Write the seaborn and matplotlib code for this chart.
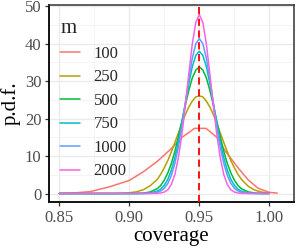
import matplotlib
matplotlib.use("Agg")
import matplotlib.pyplot as plt
from matplotlib.ticker import MultipleLocator
import seaborn as sns
import pandas as pd

# ---- data ----
m_levels = ["100", "250", "500", "750", "1000", "2000"]
colors = ["#F8766D", "#B79F00", "#00BA38", "#00BFC4", "#619CFF", "#F564E3"]

x_grid = [0.85, 0.86, 0.87, 0.88, 0.89, 0.90, 0.905, 0.91, 0.915, 0.92,
          0.9225, 0.925, 0.9275, 0.93, 0.9325, 0.935, 0.9375, 0.94, 0.9425, 0.945, 0.9475,
          0.95,
          0.9525, 0.955, 0.9575, 0.96, 0.9625, 0.965, 0.9675, 0.97, 0.9725, 0.975, 0.9775,
          0.98, 0.985, 0.99, 0.995, 1.0]

y_250 = [0, 0, 0, 0, 0.0, 0.2, 0.45, 1.0, 2.1, 3.8,
         5.2, 6.9, 8.8, 11.1, 13.6, 16.1, 18.7, 21.1, 23.1, 24.7, 25.8,
         26.1,
         25.8, 24.7, 23.1, 21.1, 18.7, 16.1, 13.6, 11.1, 8.8, 6.9, 5.2,
         3.8, 1.9, 0.85, 0.34, 0.12]
y_500 = [0, 0, 0, 0, 0, 0, 0.02, 0.11, 0.42, 1.3,
         2.2, 3.6, 5.5, 8.0, 11.2, 15.1, 19.3, 23.6, 27.6, 30.9, 33.0,
         33.8,
         33.0, 30.9, 27.6, 23.6, 19.3, 15.1, 11.2, 8.0, 5.5, 3.6, 2.2,
         1.3, 0.42, 0.11, 0.02, 0.0]
y_750 = [0, 0, 0, 0, 0, 0, 0, 0.02, 0.15, 0.64,
         1.2, 2.2, 3.8, 6.2, 9.5, 13.7, 18.7, 24.1, 29.4, 33.9, 36.9,
         38.0,
         36.9, 33.9, 29.4, 24.1, 18.7, 13.7, 9.5, 6.2, 3.8, 2.2, 1.2,
         0.64, 0.15, 0.02, 0, 0]
y_1000 = [0, 0, 0, 0, 0, 0, 0, 0, 0.06, 0.33,
          0.71, 1.4, 2.7, 4.8, 8.0, 12.3, 17.9, 24.2, 30.6, 36.2, 40.0,
          41.4,
          40.0, 36.2, 30.6, 24.2, 17.9, 12.3, 8.0, 4.8, 2.7, 1.4, 0.71,
          0.33, 0.06, 0, 0, 0]
y_2000 = [0, 0, 0, 0, 0, 0, 0, 0, 0, 0.05,
          0.15, 0.4, 1.0, 2.4, 5.0, 9.5, 15.7, 23.5, 32.0, 40.0, 45.7,
          47.8,
          45.7, 40.0, 32.0, 23.5, 15.7, 9.5, 5.0, 2.4, 1.0, 0.4, 0.15,
          0.05, 0, 0, 0, 0]

x_100 = [0.85, 0.86, 0.872, 0.886, 0.90, 0.91, 0.92, 0.93, 0.9376, 0.9466,
         0.9548, 0.9626, 0.9686, 0.978, 0.985, 0.992, 1.0, 1.0057]
y_100 = [0.05, 0.15, 0.5, 1.8, 3.5, 5.8, 8.6, 12.0, 15.0, 17.4,
         17.4, 15.0, 11.3, 6.7, 3.6, 1.4, 0.3, 0.1]

target = 0.95

x_ticks = [0.85, 0.90, 0.95, 1.00]
x_tick_labels = ["0.85", "0.90", "0.95", "1.00"]
y_ticks = [0, 10, 20, 30, 40, 50]

# ---- build long table ----
frames = [pd.DataFrame({"coverage": x_100, "pdf": y_100, "m": "100"})]
for lab, ys in zip(m_levels[1:], [y_250, y_500, y_750, y_1000, y_2000]):
    frames.append(pd.DataFrame({"coverage": x_grid, "pdf": ys, "m": lab}))
df = pd.concat(frames, ignore_index=True)

sns.set_theme(style="white")
plt.rcParams["font.family"] = ["Liberation Serif", "DejaVu Serif"]

fig = plt.figure(figsize=(2.96, 2.48), dpi=100)
ax = fig.add_axes([0.1645, 0.1835, 0.8277, 0.797])

sns.lineplot(data=df, x="coverage", y="pdf", hue="m", hue_order=m_levels,
             palette=colors, estimator=None, sort=True, linewidth=1.1, ax=ax,
             zorder=3)
ax.axvline(target, color="#FF0000", linestyle=(0, (4, 2.5)), linewidth=1.3, zorder=4)

ax.set_xlim(0.8424, 1.0174)
ax.set_ylim(-2.4, 50.4)
ax.set_xticks(x_ticks)
ax.set_xticklabels(x_tick_labels)
ax.set_yticks(y_ticks)
ax.xaxis.set_minor_locator(MultipleLocator(0.025))
ax.yaxis.set_minor_locator(MultipleLocator(5))
ax.grid(which="major", color="#EBEBEB", linewidth=1.0, zorder=0)
ax.grid(which="minor", color="#F2F2F2", linewidth=0.6, zorder=0)
ax.set_axisbelow(True)

for s in ax.spines.values():
    s.set_color("#333333")
    s.set_linewidth(1.1)
ax.spines["left"].set_color("#111111")
ax.spines["bottom"].set_color("#111111")
ax.spines["left"].set_linewidth(1.4)
ax.spines["bottom"].set_linewidth(1.4)

ax.tick_params(axis="both", which="major", labelsize=12, labelcolor="#4D4D4D",
               color="#333333", length=3.2, width=0.9, pad=2, bottom=True, left=True)
ax.tick_params(which="minor", length=0)

ax.set_xlabel("coverage", fontsize=15, color="black", labelpad=1)
ax.set_ylabel("p.d.f.", fontsize=15, color="black", labelpad=3)

leg = ax.legend(title="m", loc="upper left", bbox_to_anchor=(0.0, 0.985),
                frameon=False, fontsize=12, title_fontsize=15,
                handlelength=1.2, handletextpad=0.8, labelspacing=0.45,
                borderaxespad=0.3, alignment="left")
for line in leg.get_lines():
    line.set_linewidth(1.1)

fig.savefig("out.png", dpi=100)
